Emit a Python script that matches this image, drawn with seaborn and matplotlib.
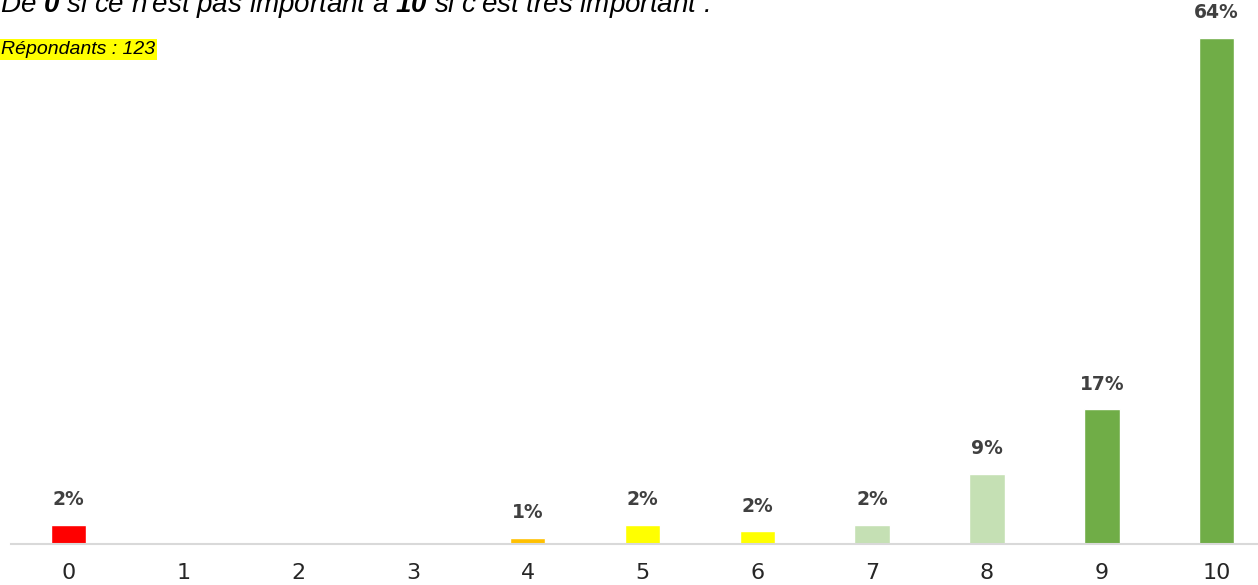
import matplotlib
matplotlib.use("Agg")
import matplotlib.pyplot as plt
import seaborn as sns
import pandas as pd

scores = ["0", "1", "2", "3", "4", "5", "6", "7", "8", "9", "10"]
percent = [2.44, 0, 0, 0, 0.81, 2.44, 1.63, 2.44, 8.94, 17.07, 64.23]
labels = ["2%", "", "", "", "1%", "2%", "2%", "2%", "9%", "17%", "64%"]
colors = ["#ff0000", "#ff0000", "#ff0000", "#ff0000", "#ffc000", "#ffff00",
          "#ffff00", "#c5e0b4", "#c5e0b4", "#70ad47", "#70ad47"]
title_text = r"De $\mathbf{0}$ si ce n'est pas important à $\mathbf{10}$ si c'est très important :"
resp_text = "Répondants : 123"

sns.set_theme(style="white")
plt.rcParams["mathtext.fontset"] = "custom"
plt.rcParams["mathtext.bf"] = "Liberation Sans:italic:bold"
plt.rcParams["mathtext.rm"] = "Liberation Sans:italic"

df = pd.DataFrame({"score": scores, "pct": percent})

fig = plt.figure(figsize=(12.58, 5.85), dpi=100)
W, H = 1258, 585
ax = fig.add_axes([11 / W, 41 / H, 1263 / W, 544 / H])
sns.barplot(data=df, x="score", y="pct", hue="score", palette=colors,
            width=0.31, legend=False, ax=ax, saturation=1, order=scores)
ax.set_xlim(-0.5, 10.5)
ax.set_ylim(0, 69.0)
for s in ["top", "right", "left"]:
    ax.spines[s].set_visible(False)
ax.spines["bottom"].set_color("#d9d9d9")
ax.spines["bottom"].set_linewidth(1.5)
ax.set_yticks([])
ax.set_xlabel("")
ax.set_ylabel("")
ax.tick_params(axis="x", length=0, pad=14, labelsize=16, labelcolor="#262626")
for lbl in ax.get_xticklabels():
    lbl.set_fontfamily("DejaVu Sans")

for i, (v, t) in enumerate(zip(percent, labels)):
    if t:
        ax.annotate(t, (i, v), xytext=(0, 11), textcoords="offset points",
                    ha="center", va="bottom", fontsize=13.5, fontweight="bold",
                    color="#404040", family="DejaVu Sans")

fig.text(0 / W, 1 - 12 / H, title_text, fontsize=20, style="italic",
         family="Liberation Sans", color="#000000", ha="left", va="baseline")
fig.text(1 / W, 1 - 54 / H, resp_text, fontsize=14, style="italic",
         family=["Liberation Sans Narrow", "Liberation Sans"], color="#000000",
         ha="left", va="baseline",
         bbox=dict(facecolor="#ffff00", edgecolor="none", pad=1.5))

fig.savefig("out.png", dpi=100)
